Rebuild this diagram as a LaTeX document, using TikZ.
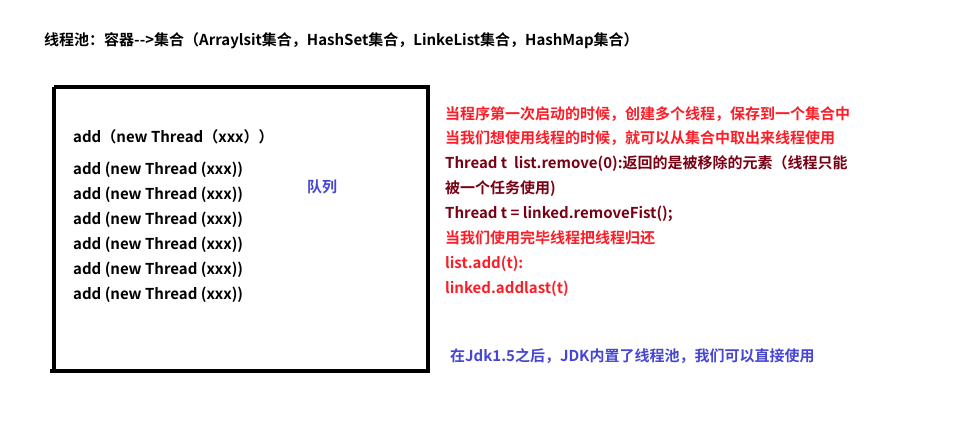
\documentclass[tikz,border=0pt]{standalone}
\usepackage{fontspec}
\setmainfont{Noto Sans CJK SC}[BoldFont={Noto Sans CJK SC Bold}]
\definecolor{myred}{RGB}{250,30,40}
\definecolor{mydark}{RGB}{120,0,20}
\definecolor{myblue}{RGB}{70,70,210}
\begin{document}
\begin{tikzpicture}[x=1pt,y=-1pt,
  txt/.style={anchor=base west,inner sep=0pt,font=\fontsize{15}{17}\selectfont\bfseries},
  redt/.style={txt,text=myred},
  darkt/.style={txt,text=mydark},
  bluet/.style={txt,text=myblue},
  blk/.style={txt,text=black}]
\useasboundingbox[fill=white] (0,0) rectangle (975,435);
\draw[line width=4pt] (54,87) coordinate (tl) -- (428,87) coordinate (tr) -- (428,371) coordinate (br) -- (50,371) coordinate (bl);
\draw[line width=4pt] (54,87) -- (54,371);
\node[blk] (title) at (44,46) {线程池：容器-{}-{}>集合（Arraylsit集合，HashSet集合，LinkeList集合，HashMap集合）};
\node[blk] (a0) at (73,143) {add（new Thread（xxx））};
\node[blk] (a1) at (73,175) {add (new Thread (xxx))};
\node[blk] (a2) at (73,200) {add (new Thread (xxx))};
\node[blk] (a3) at (73,225) {add (new Thread (xxx))};
\node[blk] (a4) at (73,250) {add (new Thread (xxx))};
\node[blk] (a5) at (73,275) {add (new Thread (xxx))};
\node[blk] (a6) at (73,300) {add (new Thread (xxx))};
\node[bluet] (q) at (307,193) {队列};
\node[redt] (r1) at (445,120) {当程序第一次启动的时候，创建多个线程，保存到一个集合中};
\node[redt] (r2) at (445,144) {当我们想使用线程的时候，就可以从集合中取出来线程使用};
\node[darkt] (r3) at (445,169) {Thread t\ \ list.remove(0):返回的是被移除的元素（线程只能};
\node[darkt] (r4) at (445,194) {被一个任务使用)};
\node[darkt] (r5) at (445,219) {Thread t = linked.removeFist();};
\node[redt] (r6) at (445,244) {当我们使用完毕线程把线程归还};
\node[redt] (r7) at (445,269) {list.add(t):};
\node[redt] (r8) at (445,294) {linked.addlast(t)};
\node[bluet] (b1) at (450,362) {在Jdk1.5之后，JDK内置了线程池，我们可以直接使用};
\end{tikzpicture}
\end{document}
